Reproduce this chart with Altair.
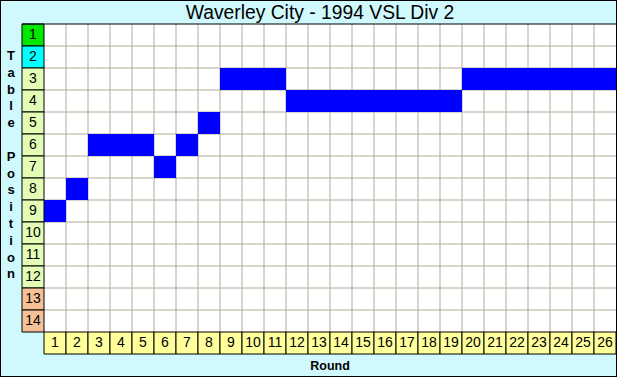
import altair as alt
import pandas as pd

title_text = "Waverley City - 1994 VSL Div 2"
y_title = "Table Position"
x_title = "Round"

rounds = list(range(1, 27))
positions = [9, 8, 6, 6, 6, 7, 6, 5, 3, 3, 3, 4, 4, 4, 4, 4, 4, 4, 4, 3, 3, 3, 3, 3, 3, 3]
table_positions = list(range(1, 15))
position_colors = ["#00E800", "#00FFFF"] + ["#E4FDB6"] * 10 + ["#F6C196"] * 2
round_cell_color = "#FFFF9C"
bg_color = "#CFF9FC"
grid_color = "#B0AA9A"
bar_color = "#0000FF"

FONT = "Liberation Sans"
XS = alt.Scale(domain=[-1, 27], range=[0, 616])
YS = alt.Scale(domain=[0, 17], range=[2, 376])

moves = pd.DataFrame({"round": rounds, "pos": positions})
left = pd.DataFrame({"pos": table_positions, "color": position_colors})
bottom = pd.DataFrame({"round": rounds})
vgrid = pd.DataFrame({"g": rounds[1:]})
hgrid = pd.DataFrame({"g": table_positions[1:]})
one = pd.DataFrame({"a": [0]})
letters = pd.DataFrame({"ch": list(y_title), "i": list(range(len(y_title)))})


def xq(field=None, datum=None):
    if field is not None:
        return alt.X(field, type="quantitative", scale=XS, axis=None)
    return alt.XDatum(datum, type="quantitative", scale=XS, axis=None)


def yq(field=None, datum=None):
    if field is not None:
        return alt.Y(field, type="quantitative", scale=YS, axis=None)
    return alt.YDatum(datum, type="quantitative", scale=YS, axis=None)


white = alt.Chart(one).mark_rect(fill="white").encode(
    x=xq(datum=1), x2=alt.X2Datum(27), y=yq(datum=1), y2=alt.Y2Datum(15)
)

vlines = alt.Chart(vgrid).mark_rule(color=grid_color, strokeWidth=1).encode(
    x=xq("g"), y=yq(datum=1), y2=alt.Y2Datum(15)
)
hlines = alt.Chart(hgrid).mark_rule(color=grid_color, strokeWidth=1).encode(
    y=yq("g"), x=xq(datum=1), x2=alt.X2Datum(27)
)

bars = alt.Chart(moves).transform_calculate(
    r2="datum.round + 1", p2="datum.pos + 1"
).mark_rect(fill=bar_color).encode(
    x=xq("round"), x2="r2:Q", y=yq("pos"), y2="p2:Q"
)

left_cells = alt.Chart(left).transform_calculate(p2="datum.pos + 1").mark_rect(
    stroke="black", strokeWidth=1
).encode(
    x=xq(datum=0), x2=alt.X2Datum(1), y=yq("pos"), y2="p2:Q",
    fill=alt.Fill("color:N", scale=None),
)
left_text = alt.Chart(left).transform_calculate(pm="datum.pos + 0.5").mark_text(
    font=FONT, fontSize=14, color="black", baseline="middle", align="center"
).encode(x=xq(datum=0.5), y=yq("pm"), text="pos:N")

bottom_cells = alt.Chart(bottom).transform_calculate(r2="datum.round + 1").mark_rect(
    fill=round_cell_color, stroke="black", strokeWidth=1
).encode(x=xq("round"), x2="r2:Q", y=yq(datum=15), y2=alt.Y2Datum(16))
bottom_text = alt.Chart(bottom).transform_calculate(rm="datum.round + 0.5").mark_text(
    font=FONT, fontSize=14, color="black", baseline="middle", align="center"
).encode(x=xq("rm"), y=yq(datum=15.5), text="round:N")

top_line = alt.Chart(one).mark_rule(color="black", strokeWidth=1).encode(
    y=yq(datum=1), x=xq(datum=0), x2=alt.X2Datum(27)
)

title = alt.Chart(one).mark_text(
    font=FONT, fontSize=19.3, color="black", baseline="middle", align="center"
).encode(x=alt.value(320), y=alt.value(13), text=alt.value(title_text))

xlab = alt.Chart(one).mark_text(
    font=FONT, fontSize=12.5, fontWeight="bold", color="black", baseline="middle", align="center"
).encode(x=alt.value(330), y=alt.value(366), text=alt.value(x_title))

# letters stacked down the left side, one per 16.8 px starting at y=56
ylab = alt.Chart(letters).transform_calculate(
    yy="(54 + 16.8 * datum.i) / 22"
).mark_text(
    font=FONT, fontSize=13, fontWeight="bold", color="black", baseline="middle",
    align="center"
).encode(x=alt.value(11), y=yq("yy"), text="ch:N")

chart = alt.layer(
    white, vlines, hlines, bars, left_cells, left_text, bottom_cells, bottom_text,
    top_line, title, xlab, ylab
).properties(
    width=617, height=377, background=bg_color, padding=0, autosize="none"
).configure_view(stroke="black", strokeWidth=2)

chart.save("out.html", embed_options={"renderer": "svg", "actions": False})
